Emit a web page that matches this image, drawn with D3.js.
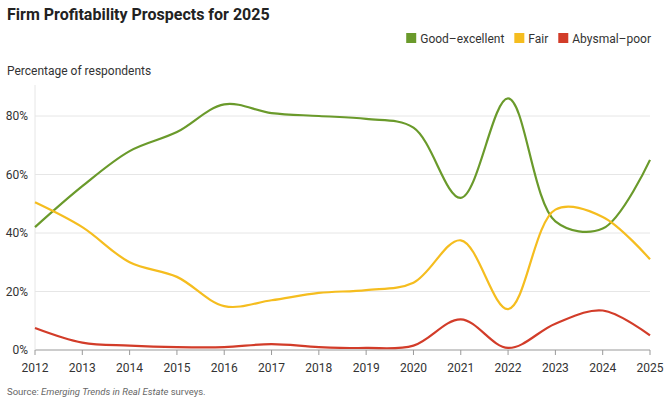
<!DOCTYPE html>
<html><head><meta charset="utf-8">
<script src="https://cdn.jsdelivr.net/npm/d3@7"></script>
<style>body{margin:0;background:#fff;font-family:Roboto,sans-serif;}</style>
</head><body>
<svg id="chart" width="667" height="402"></svg>
<script>
const years = [2012,2013,2014,2015,2016,2017,2018,2019,2020,2021,2022,2023,2024,2025];
const goodExcellent = [42,56,68,74.5,84,81,80,79,76,52,86,44,41.5,65];
const fair = [50.5,42,30,25,15,17,19.5,20.5,23,37.5,14,48,45.5,31];
const abysmalPoor = [7.5,2.5,1.5,1,1,2,1,0.7,1.5,10.5,0.7,9,13.5,5];
const yTicks = [0,20,40,60,80];
const series = [
  {name:"Good\u2013excellent", values:goodExcellent, color:"#6a9a2b"},
  {name:"Fair", values:fair, color:"#f5bd1f"},
  {name:"Abysmal\u2013poor", values:abysmalPoor, color:"#d23c29"}
];

const svg = d3.select("#chart");
const x = d3.scaleLinear().domain([2012,2025]).range([35,650]);
const y = d3.scaleLinear().domain([0,80]).range([350,116]);

svg.append("text").attr("x",7).attr("y",20).attr("font-size",16).attr("font-weight",700)
  .attr("fill","#222").text("Firm Profitability Prospects for 2025");
svg.append("text").attr("x",7).attr("y",75).attr("font-size",12).attr("fill","#333")
  .text("Percentage of respondents");

// legend, right aligned
const lg = svg.append("g").attr("font-size",12).attr("fill","#333");
let lx = 651;
series.slice().reverse().forEach(s => {
  const t = lg.append("text").attr("y",43).attr("text-anchor","end").attr("x",lx).text(s.name);
  const w = t.node().getComputedTextLength();
  lg.append("rect").attr("x",lx-w-14).attr("y",33).attr("width",10).attr("height",10).attr("fill",s.color);
  lx = lx - w - 24;
});

svg.append("g").selectAll("line").data(yTicks).join("line")
  .attr("x1",35).attr("x2",650).attr("y1",d=>y(d)).attr("y2",d=>y(d))
  .attr("stroke",d=>d===0?"#999":"#e6e6e6");
svg.append("line").attr("x1",35).attr("x2",35).attr("y1",85).attr("y2",350).attr("stroke","#e6e6e6");
svg.append("g").selectAll("line").data(years).join("line")
  .attr("x1",d=>x(d)).attr("x2",d=>x(d)).attr("y1",350).attr("y2",355).attr("stroke","#999");
svg.append("g").selectAll("text").data(yTicks).join("text")
  .attr("x",28).attr("y",d=>y(d)+4).attr("text-anchor","end").attr("font-size",12).attr("fill","#333")
  .text(d=>d+"%");
svg.append("g").selectAll("text").data(years).join("text")
  .attr("x",d=>x(d)).attr("y",372).attr("text-anchor","middle").attr("font-size",12).attr("fill","#333")
  .text(d=>d);

const line = d3.line().x((d,i)=>x(years[i])).y(d=>y(d)).curve(d3.curveCatmullRom.alpha(0.5));
series.forEach(s => {
  svg.append("path").attr("d",line(s.values)).attr("fill","none")
    .attr("stroke",s.color).attr("stroke-width",2.2);
});

const src = svg.append("text").attr("x",7).attr("y",395).attr("font-size",9.5).attr("fill","#666");
src.append("tspan").text("Source: ");
src.append("tspan").attr("font-style","italic").text("Emerging Trends in Real Estate");
src.append("tspan").text(" surveys.");
</script>
</body></html>
